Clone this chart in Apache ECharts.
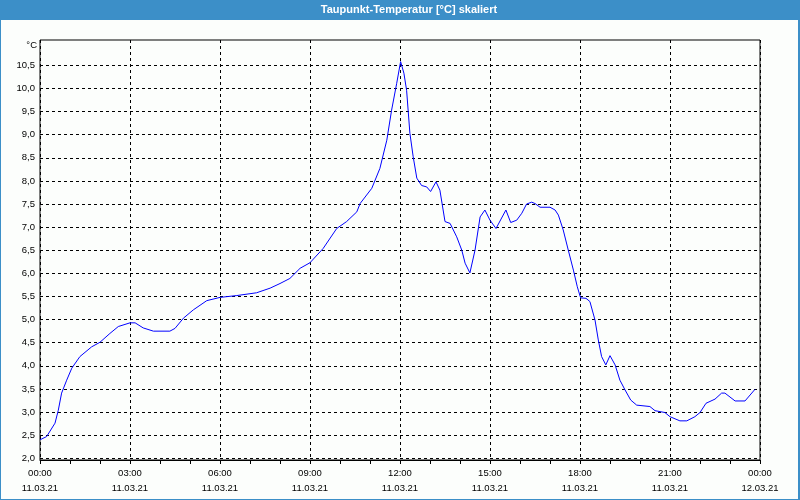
<!DOCTYPE html>
<html>
<head>
<meta charset="utf-8">
<script src="https://cdn.jsdelivr.net/npm/echarts@6/dist/echarts.min.js"></script>
<style>
  html, body { margin: 0; padding: 0; background: #fcfefc; }
  #bg { position: absolute; left: 0; top: 0; width: 797px; height: 499px;
        background: #fcfefc; border-left: 1px solid #3c8fc8; border-right: 2px solid #3c8fc8;
        border-bottom: 1px solid #3c8fc8; }
  #bar { position: absolute; left: 0; top: 0; width: 800px; height: 20px; background: #3c8fc8; }
  #chart { position: absolute; left: 0; top: 0; width: 800px; height: 500px; }
</style>
</head>
<body>
<div id="bg"></div>
<div id="bar"></div>
<div id="chart"></div>
<script>
// ---- data (hours since 11.03.21 00:00, dew point in °C) ----
const titleText = 'Taupunkt-Temperatur [°C] skaliert';
const unitLabel = '°C';
const dayLabels = ['11.03.21', '12.03.21'];
const hours = [
  0, 0.22, 0.5, 0.61, 0.72, 0.89, 1.06, 1.33, 1.72, 2.0,
  2.33, 2.61, 3.0, 3.17, 3.44, 3.78, 4.33, 4.5, 4.78, 5.11,
  5.56, 6.0, 6.56, 7.22, 7.67, 8.0, 8.33, 8.67, 9.0, 9.44,
  9.89, 10.22, 10.56, 10.67, 11.06, 11.33, 11.56, 11.72, 11.89, 12.02,
  12.13, 12.22, 12.33, 12.44, 12.56, 12.72, 12.89, 13.02, 13.2, 13.33,
  13.5, 13.67, 13.89, 14.06, 14.17, 14.33, 14.5, 14.67, 14.83, 15.0,
  15.2, 15.53, 15.69, 15.89, 16.06, 16.22, 16.39, 16.5, 16.67, 17.0,
  17.17, 17.28, 17.44, 17.61, 17.78, 17.91, 18.02, 18.2, 18.33, 18.5,
  18.61, 18.72, 18.86, 19.0, 19.17, 19.33, 19.5, 19.69, 19.89, 20.33,
  20.5, 20.83, 21.0, 21.33, 21.56, 21.83, 22.0, 22.2, 22.5, 22.72,
  22.83, 23.17, 23.5, 23.83
];
const dewPoint = [
  2.40, 2.47, 2.76, 3.04, 3.41, 3.69, 3.95, 4.20, 4.41, 4.51,
  4.70, 4.85, 4.93, 4.93, 4.82, 4.75, 4.75, 4.81, 5.03, 5.21,
  5.41, 5.48, 5.52, 5.58, 5.68, 5.78, 5.89, 6.11, 6.23, 6.54,
  6.97, 7.12, 7.33, 7.51, 7.84, 8.27, 8.88, 9.53, 10.11, 10.58,
  10.33, 9.96, 9.03, 8.52, 8.06, 7.90, 7.87, 7.77, 7.98, 7.80,
  7.12, 7.08, 6.79, 6.50, 6.22, 6.01, 6.50, 7.22, 7.37, 7.15,
  6.97, 7.37, 7.10, 7.15, 7.30, 7.50, 7.54, 7.51, 7.43, 7.43,
  7.37, 7.26, 6.94, 6.50, 6.07, 5.71, 5.47, 5.46, 5.39, 4.99,
  4.56, 4.20, 4.02, 4.22, 4.02, 3.69, 3.48, 3.26, 3.15, 3.12,
  3.03, 2.99, 2.90, 2.81, 2.81, 2.90, 2.99, 3.19, 3.28, 3.41,
  3.41, 3.24, 3.24, 3.49
];
const yMin = 2.0, yMax = 10.5, yStep = 0.5;
const xMin = 0, xMax = 24, xStep = 3;

const FONT = '"Liberation Sans", Arial, sans-serif';
const pad = n => (n < 10 ? '0' : '') + n;

const chart = echarts.init(document.getElementById('chart'), null, { renderer: 'canvas' });
chart.setOption({
  backgroundColor: 'transparent',
  animation: false,
  title: {
    text: titleText, left: 409, top: 3, textAlign: 'center', padding: 0,
    textStyle: { color: '#ffffff', fontFamily: FONT, fontSize: 11, fontWeight: 'bold', lineHeight: 13 }
  },
  grid: [
    { left: 40, top: 40, width: 720, height: 420, show: true, borderColor: '#000', borderWidth: 1,
      backgroundColor: 'transparent', containLabel: false },
    { left: 40, top: 65.3, width: 720, height: 393, show: false, containLabel: false }
  ],
  xAxis: [
    { type: 'value', gridIndex: 0, min: xMin, max: xMax, interval: xStep,
      axisLine: { show: true, lineStyle: { color: '#000', width: 1 } },
      axisTick: { show: true, length: 4, lineStyle: { color: '#000' } },
      minorTick: { show: true, splitNumber: 3, length: 4, lineStyle: { color: '#000' } },
      splitLine: { show: true, lineStyle: { color: '#000', type: [3, 3], width: 1 } },
      axisLabel: {
        margin: 6, color: '#000', fontFamily: FONT, fontSize: 9.5, lineHeight: 15,
        formatter: v => pad(v % 24) + ':00\n' + (v >= 24 ? dayLabels[1] : dayLabels[0])
      }
    },
    { type: 'value', gridIndex: 1, min: xMin, max: xMax, show: false }
  ],
  yAxis: [
    { type: 'value', gridIndex: 0, min: 0, max: 1,
      name: unitLabel, nameLocation: 'end', nameGap: -5,
      nameTextStyle: { color: '#000', fontFamily: FONT, fontSize: 9.5, align: 'right', verticalAlign: 'middle', padding: [0, 3, 0, 0] },
      axisLine: { show: false }, axisTick: { show: false }, axisLabel: { show: false }, splitLine: { show: false }
    },
    { type: 'value', gridIndex: 1, min: yMin, max: yMax, interval: yStep,
      axisLine: { show: false }, axisTick: { show: false },
      splitLine: { show: true, lineStyle: { color: '#000', type: [3, 3], width: 1 } },
      axisLabel: { margin: 5, color: '#000', fontFamily: FONT, fontSize: 9.5,
        formatter: v => v.toFixed(1).replace('.', ',') }
    }
  ],
  series: [{
    type: 'line', xAxisIndex: 1, yAxisIndex: 1, clip: false,
    showSymbol: false, symbol: 'none',
    lineStyle: { color: '#0000ff', width: 1 },
    data: hours.map((h, i) => [h, dewPoint[i]])
  }]
});
</script>
</body>
</html>
